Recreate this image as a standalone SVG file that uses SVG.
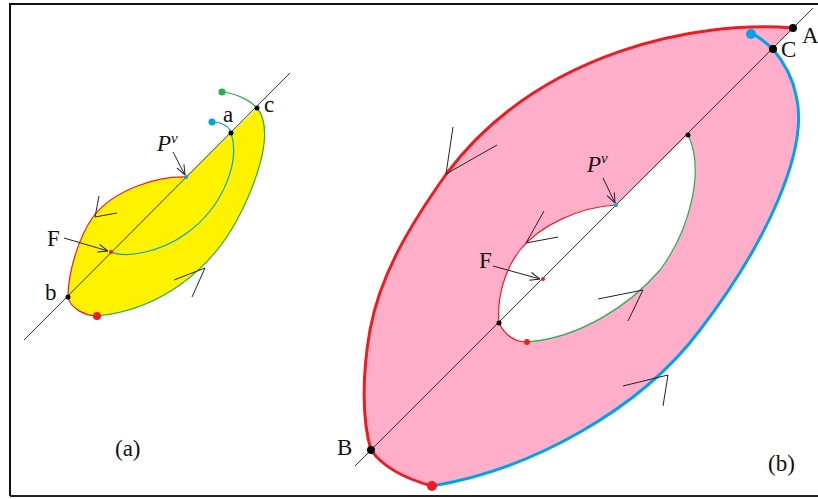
<svg xmlns="http://www.w3.org/2000/svg" width="818" height="499" viewBox="0 0 818 499">
<defs>
<style>
.lbl{font-family:"Liberation Serif","Times New Roman",serif;font-size:23px;fill:#111}
.it{font-style:italic}
.thin{fill:none;stroke:#222;stroke-width:1}
.ax{fill:none;stroke:#333;stroke-width:1}
.red{fill:none;stroke:#ED1C24}
.grn{fill:none;stroke:#22B14C}
.blu{fill:none;stroke:#00A2E8}
</style>
<marker id="ah" viewBox="0 0 10 10" refX="10" refY="5" markerWidth="10" markerHeight="10" markerUnits="userSpaceOnUse" orient="auto">
<path d="M0,1 L10,5 L0,9" fill="none" stroke="#222" stroke-width="1"/>
</marker>
</defs>
<rect width="818" height="499" fill="#fff"/>
<g id="frame">
<path d="M10,496 L10,4 L818,4" fill="none" stroke="#111" stroke-width="2"/>
<path d="M10,496 L818,496" fill="none" stroke="#222" stroke-width="2"/>
</g>
<g id="panel-a">
<path id="a-region" d="M186,177 C160,176 115,188 93,217 C80,235 68,270 68,297 C70,308 85,316 97,316 C160,310 210,270 237,220 C258,180 275,130 257,108 L186,177 Z" fill="#FFF200" stroke="none"/>
<path class="red" stroke-width="1.2" d="M186,177 C160,176 115,188 93,217 C80,235 68,270 68,297 C70,308 85,316 97,316"/>
<path class="grn" stroke-width="1.2" d="M97,316 C160,310 210,270 237,220 C258,180 275,130 257,108"/>
<path class="grn" stroke-width="1.2" d="M222,92 C235,93 250,100 257,108"/>
<path class="blu" stroke-width="1.2" d="M212,122 C222,122 230,127 231,133 C240,160 225,205 187,233 C160,253 125,258 111,252"/>
<line class="ax" x1="24" y1="340" x2="290" y2="73"/>
<circle cx="222" cy="92" r="3.5" fill="#22B14C"/>
<circle cx="212" cy="122" r="3.5" fill="#00A2E8"/>
<circle cx="97" cy="316" r="4" fill="#ED1C24"/>
<circle cx="257" cy="108" r="2.5" fill="#000"/>
<circle cx="231" cy="133" r="2.5" fill="#000"/>
<circle cx="68" cy="297" r="2.5" fill="#000"/>
<circle cx="186" cy="177" r="2" fill="#00A2E8"/>
<circle cx="111" cy="252" r="2" fill="#ED1C24"/>
<polyline class="thin" points="99,196 95,217 117,213"/>
<polyline class="thin" points="174,280 205,268 192,297"/>
<text class="lbl" x="264" y="112">c</text>
<text class="lbl" x="223" y="122">a</text>
<text class="lbl" x="45" y="300">b</text>
<text class="lbl" x="47" y="246">F</text>
<text class="lbl" x="157" y="151"><tspan class="it">P</tspan><tspan class="it" font-size="15" dy="-8">v</tspan></text>
<text class="lbl" x="115" y="456">(a)</text>
</g>
<g id="panel-b">
<path id="b-region" d="M793,28 C700,20 540,50 447,173 C410,225 380,275 370,330 C362,375 362,420 371,450 C385,470 410,480 432,486 C530,470 640,410 700,330 C765,245 810,150 796,95 C792,75 782,60 773,49 L793,28 Z" fill="#FFAEC9" stroke="none"/>
<path id="b-hole" d="M616,205 C580,207 540,225 520,250 C503,272 497,300 499,323 C505,335 515,342 527,342 C580,338 630,305 660,270 C690,230 705,170 688,135 L616,205 Z" fill="#fff" stroke="none"/>
<path class="red" stroke-width="3" d="M793,28 C700,20 540,50 447,173 C410,225 380,275 370,330 C362,375 362,420 371,450 C385,470 410,480 432,486"/>
<path class="blu" stroke-width="3" d="M432,486 C530,470 640,410 700,330 C765,245 810,150 796,95 C792,75 782,60 773,49 C765,42 757,35 751,33"/>
<path class="red" stroke-width="1.2" d="M616,205 C580,207 540,225 520,250 C503,272 497,300 499,323 C505,335 515,342 527,342"/>
<path class="grn" stroke-width="1.2" d="M527,342 C580,338 630,305 660,270 C690,230 705,170 688,135"/>
<line class="ax" x1="355" y1="466" x2="813" y2="8"/>
<circle cx="751" cy="34" r="5" fill="#00A2E8"/>
<circle cx="432" cy="486" r="5" fill="#ED1C24"/>
<circle cx="527" cy="342" r="3" fill="#ED1C24"/>
<circle cx="793" cy="28" r="4" fill="#000"/>
<circle cx="773" cy="49" r="4" fill="#000"/>
<circle cx="371" cy="450" r="4" fill="#000"/>
<circle cx="688" cy="135" r="2.5" fill="#000"/>
<circle cx="499" cy="323" r="2.5" fill="#000"/>
<circle cx="616" cy="205" r="2" fill="#00A2E8"/>
<circle cx="543" cy="279" r="2" fill="#ED1C24"/>
<polyline class="thin" points="453,127 446,174 497,145"/>
<polyline class="thin" points="623,386 668,375 663,406"/>
<polyline class="thin" points="544,211 526,243 558,237"/>
<polyline class="thin" points="598,299 643,290 628,321"/>
<text class="lbl" x="802" y="43">A</text>
<text class="lbl" x="781" y="57">C</text>
<text class="lbl" x="337" y="455">B</text>
<text class="lbl" x="479" y="268">F</text>
<text class="lbl" x="587" y="172"><tspan class="it">P</tspan><tspan class="it" font-size="15" dy="-9">v</tspan></text>
<text class="lbl" x="768" y="471">(b)</text>
</g>
<g id="connectors">
<line class="thin" x1="64" y1="238" x2="108" y2="251" marker-end="url(#ah)"/>
<line class="thin" x1="173" y1="152" x2="185" y2="175" marker-end="url(#ah)"/>
<line class="thin" x1="493" y1="266" x2="540" y2="279" marker-end="url(#ah)"/>
<line class="thin" x1="603" y1="178" x2="615" y2="203" marker-end="url(#ah)"/>
</g>
</svg>
